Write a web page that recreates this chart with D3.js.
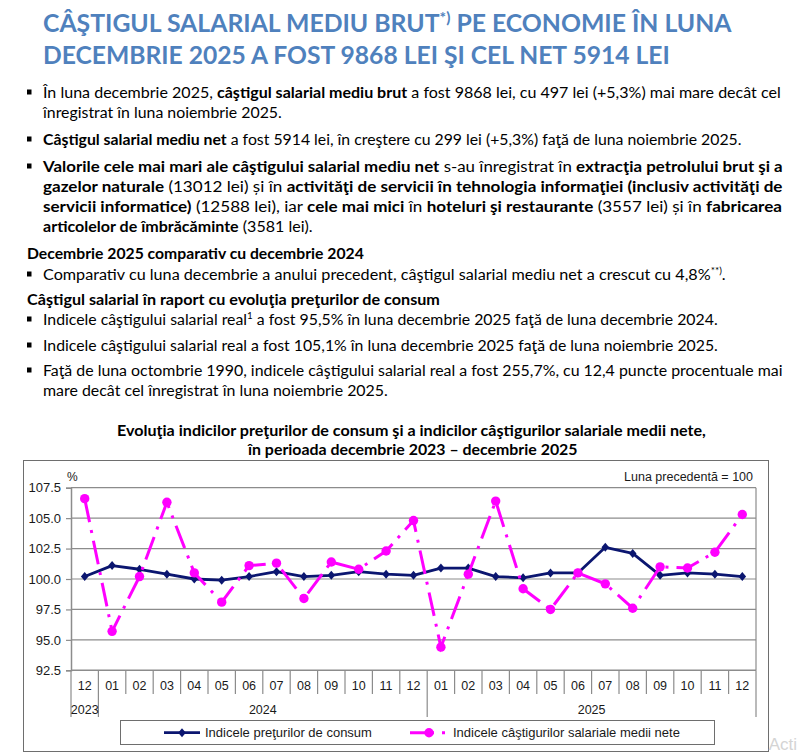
<!DOCTYPE html>
<html>
<head>
<meta charset="utf-8">
<script src="https://cdn.jsdelivr.net/npm/d3@7"></script>
<style>
  body { margin: 0; background: #fff; }
  svg { display: block; }
  .doc { font-family: Lato, "Open Sans", sans-serif; }
  .ch { font-family: "Liberation Sans", Arial, sans-serif; }
</style>
</head>
<body>
<svg id="page" width="800" height="754"></svg>
<script>
// luni si ani (axa X)
var luni = ["12","01","02","03","04","05","06","07","08","09","10","11","12",
            "01","02","03","04","05","06","07","08","09","10","11","12"];
var ani = ["2023", "2024", "2025"];
var aniPrima = [0, 1, 13];
var aniUltima = [0, 12, 24];

// luna precedenta = 100
var indicelePreturilor = [100.2,101.1,100.8,100.4,100.0,99.9,100.2,100.6,100.2,100.3,100.6,100.4,100.3,
                          100.9,100.9,100.2,100.1,100.5,100.5,102.6,102.1,100.3,100.5,100.4,100.2];
var indiceleCastigurilor = [106.6,95.7,100.2,106.3,100.5,98.1,101.1,101.3,98.4,101.4,100.8,102.3,104.8,
                            94.4,100.4,106.4,99.2,97.5,100.5,99.6,97.6,101.0,100.9,102.2,105.3];
var yTicks = [92.5, 95, 97.5, 100, 102.5, 105, 107.5];

var serii = ["Indicele preţurilor de consum", "Indicele câştigurilor salariale medii nete"];

var albastru = "#4f81bd";
var navy = "#0b1670";
var roz = "#ff00ff";
var gri = "#8c8c8c";

var svg = d3.select("#page");

// ---------- text document ----------
// fiecare rand: x, baseline, latime tinta, bucati [text, bold, sup]
var randuri = [
  {x:43, y:32, w:689, size:25, color:albastru, bold:true, parts:[["CÂŞTIGUL SALARIAL MEDIU BRUT"],["*)",0,1],[" PE ECONOMIE ÎN LUNA"]]},
  {x:43, y:64, w:627, size:25, color:albastru, bold:true, parts:[["DECEMBRIE 2025 A FOST 9868 LEI ŞI CEL NET 5914 LEI"]]},
  {x:43, y:98, w:738, bullet:true, parts:[["În luna decembrie 2025, "],["câştigul salarial mediu brut",1],[" a fost 9868 lei, cu 497 lei (+5,3%) mai mare decât cel"]]},
  {x:43, y:118, w:239, parts:[["înregistrat în luna noiembrie 2025."]]},
  {x:43, y:145, w:699, bullet:true, parts:[["Câştigul salarial mediu net",1],[" a fost 5914 lei, în creştere cu 299 lei (+5,3%) faţă de luna noiembrie 2025."]]},
  {x:43, y:172, w:740, bullet:true, parts:[["Valorile cele mai mari ale câştigului salarial mediu net",1],[" s-au înregistrat în "],["extracţia petrolului brut şi a",1]]},
  {x:43, y:192, w:740, parts:[["gazelor naturale",1],[" (13012 lei) și în "],["activităţi de servicii în tehnologia informaţiei (inclusiv activităţi de",1]]},
  {x:43, y:212, w:740, parts:[["servicii informatice)",1],[" (12588 lei), iar "],["cele mai mici",1],[" în "],["hoteluri şi restaurante",1],[" (3557 lei) și în "],["fabricarea",1]]},
  {x:43, y:232, w:270, parts:[["articolelor de îmbrăcăminte",1],[" (3581 lei)."]]},
  {x:27, y:259, w:337, parts:[["Decembrie 2025 comparativ cu decembrie 2024",1]]},
  {x:43, y:280, w:683, bullet:true, parts:[["Comparativ cu luna decembrie a anului precedent, câştigul salarial mediu net a crescut cu 4,8%"],["**)",0,1],["."]]},
  {x:27, y:305, w:413, parts:[["Câştigul salarial în raport cu evoluţia preţurilor de consum",1]]},
  {x:43, y:325, w:675, bullet:true, parts:[["Indicele câştigului salarial real"],["1",0,1],[" a fost 95,5% în luna decembrie 2025 faţă de luna decembrie 2024."]]},
  {x:43, y:351, w:675, bullet:true, parts:[["Indicele câştigului salarial real a fost 105,1% în luna decembrie 2025 faţă de luna noiembrie 2025."]]},
  {x:43, y:376, w:740, bullet:true, parts:[["Faţă de luna octombrie 1990, indicele câştigului salarial real a fost 255,7%, cu 12,4 puncte procentuale mai"]]},
  {x:43, y:396, w:345, parts:[["mare decât cel înregistrat în luna noiembrie 2025."]]},
  {cx:411.5, y:436, w:589, parts:[["Evoluţia indicilor preţurilor de consum şi a indicilor câştigurilor salariale medii nete,",1]]},
  {cx:413, y:455, w:330, parts:[["în perioada decembrie 2023 – decembrie 2025",1]]}
];

randuri.forEach(function(r) {
  var size = r.size || 16;
  var g = svg.append("g").attr("class", "doc");
  var t = g.append("text")
    .attr("fill", r.color || "#000")
    .attr("font-size", size);
  var sus = false;
  r.parts.forEach(function(p) {
    var ts = t.append("tspan").text(p[0])
      .attr("font-weight", (p[1] || r.bold) ? "bold" : "normal");
    if (p[2]) {
      ts.attr("font-size", size * 0.62).attr("dy", -size * 0.38);
      sus = true;
    } else if (sus) {
      ts.attr("dy", size * 0.38);
      sus = false;
    }
  });
  var natural = t.node().getComputedTextLength();
  var x0 = r.cx !== undefined ? r.cx - r.w / 2 : r.x;
  g.attr("transform", "translate(" + x0 + "," + r.y + ")");
  t.attr("transform", "scale(" + (r.w / natural) + ",1)");
  if (r.bullet) {
    svg.append("rect")
      .attr("x", 27).attr("y", r.y - 8.5)
      .attr("width", 4.5).attr("height", 5)
      .attr("fill", "#000");
  }
});

// ---------- grafic ----------
var box = {x: 23, y: 460, w: 745, h: 291};
svg.append("rect")
  .attr("x", box.x + 0.5).attr("y", box.y + 0.5)
  .attr("width", box.w).attr("height", box.h)
  .attr("fill", "#fff").attr("stroke", "#6e6e6e").attr("stroke-width", 1);

var x = d3.scaleBand()
  .domain(d3.range(luni.length))
  .range([71, 756]);
var y = d3.scaleLinear()
  .domain([92.5, 107.5])
  .range([670.3, 487.7]);
var cx = function(i) { return x(i) + x.bandwidth() / 2; };

var ch = svg.append("g").attr("class", "ch");

// linii orizontale
ch.selectAll(".grid")
  .data(yTicks.slice(1))
  .enter().append("line")
  .attr("x1", 71).attr("x2", 756)
  .attr("y1", function(d) { return y(d); })
  .attr("y2", function(d) { return y(d); })
  .attr("stroke", gri).attr("stroke-width", 1.2);

// marginea dreapta a zonei
ch.append("line")
  .attr("x1", 756).attr("x2", 756)
  .attr("y1", y(107.5)).attr("y2", y(92.5))
  .attr("stroke", gri).attr("stroke-width", 1.2);

// axa Y
var yAxis = d3.axisLeft(y)
  .tickValues(yTicks)
  .tickFormat(d3.format(".1f"))
  .tickSize(5)
  .tickPadding(5);
var gy = ch.append("g")
  .attr("transform", "translate(71,0)")
  .call(yAxis);
gy.select(".domain").attr("stroke", gri).attr("stroke-width", 1.5);
gy.selectAll(".tick line").attr("stroke", gri).attr("stroke-width", 1.2);
gy.selectAll(".tick text")
  .attr("font-family", "Liberation Sans, Arial, sans-serif")
  .attr("font-size", 13).attr("fill", "#1a1a1a");

// axa X
ch.append("line")
  .attr("x1", 71).attr("x2", 756)
  .attr("y1", y(92.5)).attr("y2", y(92.5))
  .attr("stroke", gri).attr("stroke-width", 1.5);

// separatoare luni
ch.selectAll(".sepLuna")
  .data(d3.range(luni.length + 1))
  .enter().append("line")
  .attr("x1", function(i) { return i < luni.length ? x(i) : 756; })
  .attr("x2", function(i) { return i < luni.length ? x(i) : 756; })
  .attr("y1", y(92.5))
  .attr("y2", function(i) {
    var capat = i === 0 || i === luni.length || aniPrima.indexOf(i) >= 0;
    return capat ? 717 : 694;
  })
  .attr("stroke", gri).attr("stroke-width", 1.2);

ch.selectAll(".luna")
  .data(luni)
  .enter().append("text")
  .attr("x", function(d, i) { return cx(i); })
  .attr("y", 690)
  .attr("text-anchor", "middle")
  .attr("font-size", 12.5).attr("fill", "#1a1a1a")
  .text(function(d) { return d; });

ch.selectAll(".an")
  .data(ani)
  .enter().append("text")
  .attr("x", function(d, i) { return (x(aniPrima[i]) + x(aniUltima[i]) + x.bandwidth()) / 2; })
  .attr("y", 714)
  .attr("text-anchor", "middle")
  .attr("font-size", 12.5).attr("fill", "#1a1a1a")
  .text(function(d) { return d; });

ch.append("text")
  .attr("x", 67).attr("y", 481)
  .attr("font-size", 12).attr("fill", "#1a1a1a")
  .text("%");
ch.append("text")
  .attr("x", 753).attr("y", 481)
  .attr("text-anchor", "end")
  .attr("font-size", 12.5).attr("fill", "#1a1a1a")
  .text("Luna precedentă = 100");

// serii
var linie = d3.line()
  .x(function(d, i) { return cx(i); })
  .y(function(d) { return y(d); });

var romb = "M0,-4.5L3.8,0L0,4.5L-3.8,0Z";

ch.append("path")
  .datum(indicelePreturilor)
  .attr("d", linie)
  .attr("fill", "none").attr("stroke", navy).attr("stroke-width", 2.8)
  .attr("stroke-linejoin", "round");
ch.selectAll(".romb")
  .data(indicelePreturilor)
  .enter().append("path")
  .attr("d", romb)
  .attr("transform", function(d, i) { return "translate(" + cx(i) + "," + y(d) + ")"; })
  .attr("fill", navy);

ch.append("path")
  .datum(indiceleCastigurilor)
  .attr("d", linie)
  .attr("fill", "none").attr("stroke", roz).attr("stroke-width", 3)
  .attr("stroke-dasharray", "24,8,3,8");
ch.selectAll(".cerc")
  .data(indiceleCastigurilor)
  .enter().append("circle")
  .attr("cx", function(d, i) { return cx(i); })
  .attr("cy", function(d) { return y(d); })
  .attr("r", 4.7)
  .attr("fill", roz);

// legenda
ch.append("rect")
  .attr("x", 120.5).attr("y", 720.5)
  .attr("width", 594).attr("height", 24)
  .attr("fill", "#fff").attr("stroke", "#6e6e6e").attr("stroke-width", 1);

var ly = 732.7;
ch.append("line")
  .attr("x1", 164).attr("x2", 200).attr("y1", ly).attr("y2", ly)
  .attr("stroke", navy).attr("stroke-width", 2.8);
ch.append("path")
  .attr("d", romb).attr("transform", "translate(182," + ly + ")")
  .attr("fill", navy);
ch.append("text")
  .attr("x", 205).attr("y", ly + 4.5)
  .attr("font-size", 13).attr("fill", "#1a1a1a")
  .text(serii[0]);

ch.append("line")
  .attr("x1", 410).attr("x2", 446).attr("y1", ly).attr("y2", ly)
  .attr("stroke", roz).attr("stroke-width", 3)
  .attr("stroke-dasharray", "24,8,3,8");
ch.append("circle")
  .attr("cx", 429).attr("cy", ly).attr("r", 4.7)
  .attr("fill", roz);
ch.append("text")
  .attr("x", 453).attr("y", ly + 4.5)
  .attr("font-size", 13).attr("fill", "#1a1a1a")
  .text(serii[1]);

// filigran din captura
svg.append("text")
  .attr("x", 797).attr("y", 750)
  .attr("text-anchor", "end")
  .attr("font-family", "Liberation Sans, Arial, sans-serif")
  .attr("font-size", 17).attr("fill", "#d4d4d4")
  .text("Acti");
</script>
</body>
</html>
